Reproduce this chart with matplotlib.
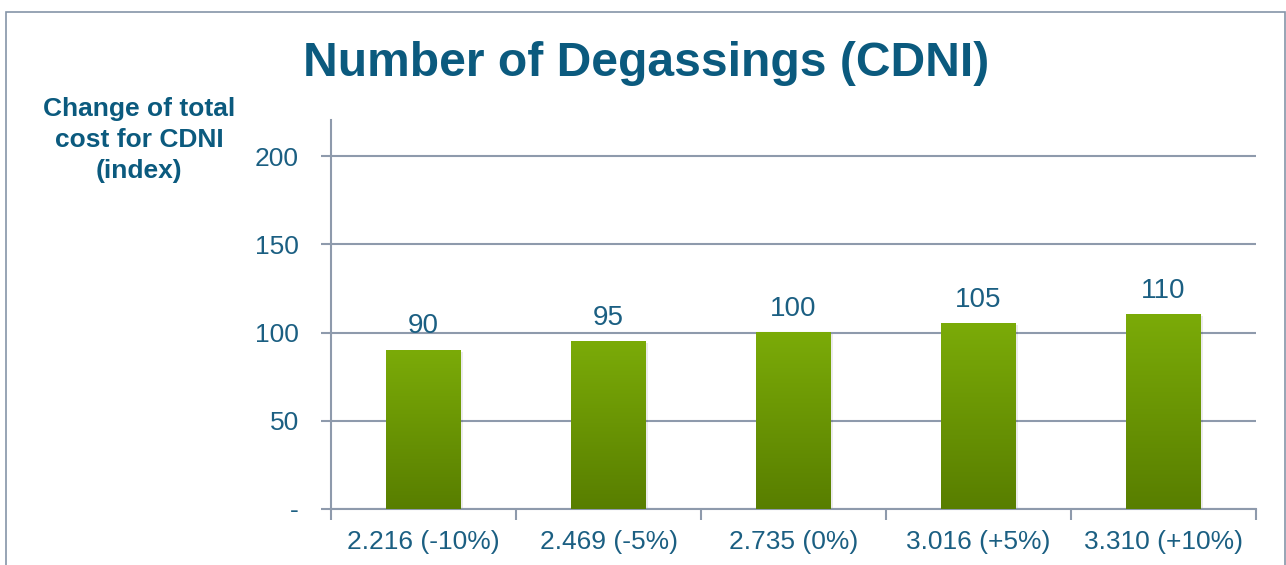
import numpy as np
import matplotlib.pyplot as plt
from matplotlib.colors import LinearSegmentedColormap
from matplotlib.patches import Rectangle

categories = ['2.216 (-10%)', '2.469 (-5%)', '2.735 (0%)', '3.016 (+5%)', '3.310 (+10%)']
values = [90, 95, 100, 105, 110]
yticks = [0, 50, 100, 150, 200]
ytick_labels = ['-', '50', '100', '150', '200']

title_col = '#0B5A7E'
text_col = '#1B5F82'
grid_col = '#8E9AAC'

plt.rcParams['font.family'] = ['Liberation Sans', 'DejaVu Sans']

fig = plt.figure(figsize=(12.86, 5.65), dpi=100)
ax = fig.add_axes([331/1286, 1-509/565, 925/1286, 389/565])

# outer frame
fig.patches.append(Rectangle((6/1286, -0.1), (1285-6)/1286, 1.1-12/565, transform=fig.transFigure,
                             fill=False, edgecolor='#8595A8', lw=1.2))

x = np.arange(len(values))
bars = ax.bar(x, values, width=0.405, color='none', zorder=3)
cmap = LinearSegmentedColormap.from_list('g', ['#587E00', '#7BAB08'])
grad = np.linspace(0, 1, 256).reshape(-1, 1)
for b in bars:
    x0, y0, w, h = b.get_x(), b.get_y(), b.get_width(), b.get_height()
    # soft shadow
    ax.add_patch(Rectangle((x0 + 0.01, y0), w, h - 0.8, facecolor='#000000', alpha=0.08, zorder=2.5, lw=0))
    ax.imshow(grad, extent=(x0, x0 + w, y0, y0 + h), origin='lower', cmap=cmap,
              aspect='auto', zorder=3, interpolation='bilinear')

for xi, v in zip(x, values):
    ax.annotate(str(v), (xi, v), xytext=(0, 12), textcoords='offset points',
                ha='center', va='baseline', fontsize=20, color=text_col)

ax.set_xlim(-0.5, len(values) - 0.5)
ax.set_ylim(0, 220.4)
ax.set_yticks(yticks)
ax.set_yticklabels(ytick_labels)
ax.set_xticks(x)
ax.set_xticklabels(categories)
ax.set_xticks(np.arange(-0.5, len(values)), minor=True)
ax.tick_params(axis='x', which='major', length=0, pad=15, labelsize=19, labelcolor=text_col)
ax.tick_params(axis='x', which='minor', length=8, width=1.5, color=grid_col)
ax.tick_params(axis='y', length=7, width=1.5, color=grid_col, pad=16, labelsize=19, labelcolor=text_col)

ax.grid(axis='y', color=grid_col, lw=1.5, zorder=1)
ax.set_axisbelow(True)
for s in ['top', 'right']:
    ax.spines[s].set_visible(False)
for s in ['left', 'bottom']:
    ax.spines[s].set_color(grid_col)
    ax.spines[s].set_linewidth(1.5)

fig.text(646/1286, 1-63/565, 'Number of Degassings (CDNI)', ha='center', va='center',
         fontsize=34.6, fontweight='bold', color=title_col)
fig.text(139/1286, 1-140/565, 'Change of total\ncost for CDNI\n(index)', ha='center', va='center',
         fontsize=19, fontweight='bold', color=title_col, linespacing=1.38)

fig.savefig('out.png', dpi=100)
